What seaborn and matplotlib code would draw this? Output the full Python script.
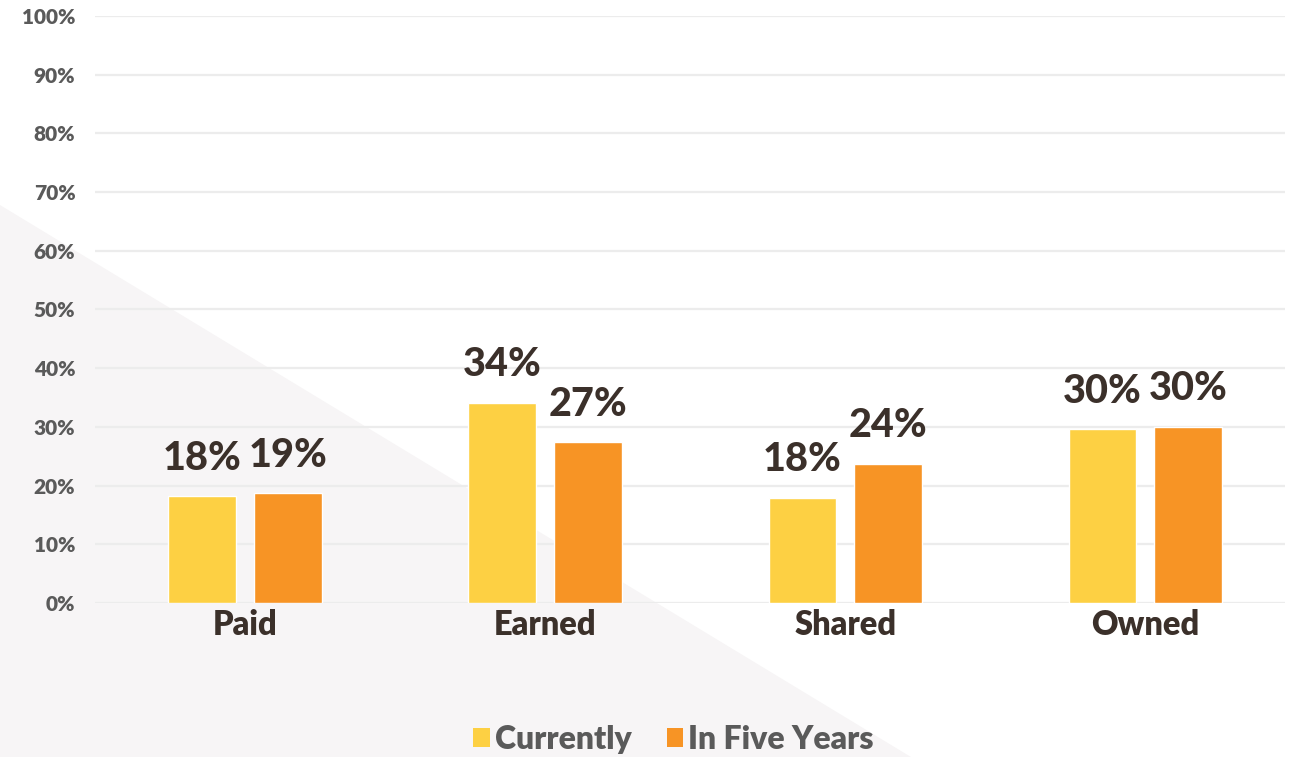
import matplotlib
matplotlib.use("Agg")
import matplotlib.pyplot as plt
from matplotlib import font_manager
from matplotlib.patches import Polygon, Patch
import seaborn as sns
import pandas as pd

# ---- data ----
categories = ["Paid", "Earned", "Shared", "Owned"]
series_names = ["Currently", "In Five Years"]
currently = [18.2, 34.1, 17.9, 29.6]
in_five_years = [18.7, 27.4, 23.7, 30.0]
y_ticks = [0, 10, 20, 30, 40, 50, 60, 70, 80, 90, 100]

colors = {"Currently": "#fdd043", "In Five Years": "#f79425"}
dark = "#3b302a"
gray = "#5a5a5a"

sns.set_theme(style="white")

names = {f.name for f in font_manager.fontManager.ttflist}
base_font = "Lato" if "Lato" in names else "DejaVu Sans"
if "Liberation Sans Narrow" in names:
    label_font = dict(family="Liberation Sans Narrow", weight="bold", size=31)
else:
    label_font = dict(family=base_font, weight="black", size=28.5)
plt.rcParams["font.family"] = [base_font, "DejaVu Sans"]

df = pd.DataFrame({
    "category": categories * 2,
    "series": [series_names[0]] * 4 + [series_names[1]] * 4,
    "value": currently + in_five_years,
})

fig = plt.figure(figsize=(12.9, 7.57), dpi=100)
fig.patch.set_facecolor("white")
# background triangle
tri = Polygon([(0, 0.729), (0, 0), (0.706, 0)], closed=True,
              transform=fig.transFigure, facecolor="#f7f5f6", edgecolor="none", zorder=-5)
fig.patches.append(tri)

ax = fig.add_axes([0.0736, 0.2034, 0.9225, 0.7755])
ax.set_zorder(2)
ax.set_facecolor("none")
ax.patch.set_alpha(0)

sns.barplot(data=df, x="category", y="value", hue="series", order=categories,
            hue_order=series_names, palette=colors, width=0.571, gap=0.21,
            saturation=1, ax=ax, legend=False, zorder=3)

ax.set_ylim(0, 100)
ax.set_xlim(-0.5, 3.465)
ax.set_yticks(y_ticks)
ax.set_yticklabels([f"{t}%" for t in y_ticks])
ax.yaxis.grid(True, color="#ececec", linewidth=1.6, zorder=0)
ax.xaxis.grid(False)
ax.set_axisbelow(True)
for s in ax.spines.values():
    s.set_visible(False)
ax.tick_params(axis="y", length=0, pad=14, labelsize=15, labelcolor=gray)
ax.tick_params(axis="x", length=0, pad=4, labelsize=23.5, labelcolor=dark)
for lbl in ax.get_yticklabels():
    lbl.set_fontweight("heavy")
for lbl in ax.get_xticklabels():
    lbl.set_fontweight("heavy")
ax.set_xlabel("")
ax.set_ylabel("")

for cont, vals in zip(ax.containers, [currently, in_five_years]):
    ax.bar_label(cont, labels=[f"{v:.0f}%" for v in vals], padding=14,
                 color=dark, family=label_font["family"],
                 fontweight=label_font["weight"], fontsize=label_font["size"])

handles = [Patch(facecolor=colors[n], edgecolor="none") for n in series_names]
leg = fig.legend(handles, series_names, loc="center", bbox_to_anchor=(0.522, 0.023),
                 ncol=2, frameon=False, handlelength=0.52, handleheight=0.52,
                 handletextpad=0.15, columnspacing=1.1,
                 prop=dict(family=base_font, weight="heavy", size=23))
for t in leg.get_texts():
    t.set_color(gray)

fig.savefig("out.png", dpi=100, facecolor="white")
